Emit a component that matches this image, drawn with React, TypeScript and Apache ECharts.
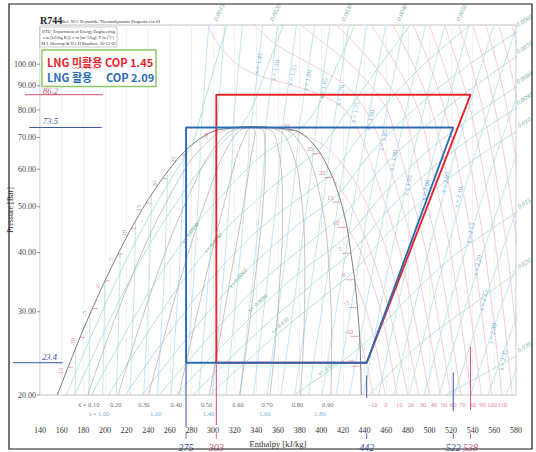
import React, { useEffect, useRef } from "react";
import * as echarts from "echarts";

type Pt = [number, number];

// ---------- axes ----------
const H_MIN = 140;
const H_MAX = 580;
const H_STEP = 20;
const P_MIN = 20;
const P_MAX = 121;
const pressureTicks = [20, 30, 40, 50, 60, 70, 80, 90, 100];

// ---------- saturation dome (bar, kJ/kg) ----------
const satP = [20, 22.9, 26.49, 30.47, 34.85, 39.69, 45.02, 50.87, 57.29, 64.34, 68.9, 72.14, 73.3, 73.77];
const satHf = [156, 166, 177, 188.5, 200, 212, 224.5, 238, 253, 270.5, 285, 300, 315, 335];
const satHg = [437, 436.5, 435.5, 433.5, 431, 427.5, 424, 418.5, 411, 400, 390, 378, 360, 335];

// temperature labels on the dome
const liqLabelT = ["-15", "-10", "-5", "0", "5", "10", "15", "20", "25", "30"];
const liqLabelH = [166, 177, 188.5, 200, 212, 224.5, 238, 253, 270.5, 300];
const vapLabelH = [436.5, 435.5, 433.5, 431, 427.5, 424, 418.5, 411, 400, 378];
const domeLabelP = [22.9, 26.49, 30.47, 34.85, 39.69, 45.02, 50.87, 57.29, 64.34, 72.14];

// ---------- quality lines ----------
const qualityX = [0.1, 0.2, 0.3, 0.4, 0.5, 0.6, 0.7, 0.8, 0.9];
const qualityP = [20, 26.49, 34.85, 45.02, 57.29, 64.34, 72.14, 73.77];
const qualityH = [
  [184.1, 202.9, 223.1, 244.5, 268.8, 283.5, 307.8, 335],
  [212.2, 228.7, 246.2, 264.4, 284.6, 296.4, 315.6, 335],
  [240.3, 254.6, 269.3, 284.4, 300.4, 309.4, 323.4, 335],
  [268.4, 280.4, 292.4, 304.3, 316.2, 322.3, 331.2, 335],
  [296.5, 306.3, 315.5, 324.3, 332, 335.3, 339, 335],
  [324.6, 332.1, 338.6, 344.2, 347.8, 348.2, 346.8, 335],
  [352.7, 358, 361.7, 364.2, 363.6, 361.2, 354.6, 335],
  [380.8, 383.8, 384.8, 384.1, 379.4, 374.1, 362.4, 335],
  [408.9, 409.7, 407.9, 404.1, 395.2, 387.1, 370.2, 335],
];

// ---------- isentropes (kJ/kg, bar) ----------
const isentropeS = [0.9, 0.95, 1.0, 1.05, 1.1, 1.15, 1.2, 1.25, 1.3, 1.35, 1.4, 1.45, 1.5, 1.55, 1.6, 1.65, 1.7, 1.75, 1.8, 1.85, 1.9, 1.95, 2.0, 2.05, 2.1, 2.15, 2.2, 2.25, 2.3, 2.35, 2.4];
const isentropeLines: Pt[][] = [
  [[172.5, 20], [172.8, 25.2]],
  [[185.2, 20], [185.9, 26.49], [186.3, 29.9]],
  [[197.9, 20], [199.1, 26.49], [200, 34.85]],
  [[210.5, 20], [212.3, 26.49], [213.7, 34.85], [214.1, 40.7]],
  [[223.2, 20], [225.4, 26.49], [227.3, 34.85], [228.2, 45.02], [228.3, 46.7]],
  [[235.9, 20], [238.6, 26.49], [241, 34.85], [242.3, 45.02], [243.2, 53.1]],
  [[248.6, 20], [251.7, 26.49], [254.6, 34.85], [256.5, 45.02], [258, 57.29], [258.1, 59.4]],
  [[261.3, 20], [264.9, 26.49], [268.3, 34.85], [270.7, 45.02], [272.6, 57.29], [273.2, 65]],
  [[273.9, 20], [278.1, 26.49], [281.9, 34.85], [284.8, 45.02], [287.3, 57.29], [288.1, 64.34], [288.1, 69], [292, 90], [296, 121]],
  [[286.6, 20], [291.2, 26.49], [295.6, 34.85], [299, 45.02], [302, 57.29], [303, 64.34], [303, 72.3], [306.5, 90], [310.7, 121]],
  [[299.3, 20], [304.4, 26.49], [309.3, 34.85], [313.1, 45.02], [316.6, 57.29], [317.9, 64.34], [318.2, 73], [321.9, 90], [327, 121]],
  [[312, 20], [317.5, 26.49], [322.9, 34.85], [327.3, 45.02], [331.3, 57.29], [332.8, 64.34], [333.3, 72.14], [335, 73.77], [339.5, 90], [346, 121]],
  [[324.7, 20], [330.7, 26.49], [336.6, 34.85], [341.4, 45.02], [345.9, 57.29], [347.7, 64.34], [348.5, 72.14], [348.6, 73.25], [353.3, 90], [359.6, 121]],
  [[337.4, 20], [343.8, 26.49], [350.2, 34.85], [355.6, 45.02], [360.6, 57.29], [362.6, 64.34], [363.7, 72.14], [363.8, 72.68], [369.5, 90], [377, 121]],
  [[350, 20], [357, 26.49], [363.9, 34.85], [369.8, 45.02], [375.2, 57.29], [377.5, 64.34], [378.8, 71.84], [385.5, 90], [394, 121]],
  [[362.7, 20], [370.2, 26.49], [377.5, 34.85], [383.9, 45.02], [389.9, 57.29], [392.4, 64.34], [393, 66.8], [397.4, 80], [403.1, 100], [408, 121]],
  [[375.4, 20], [383.3, 26.49], [391.2, 34.85], [398.1, 45.02], [404.6, 57.29], [405.9, 60.6], [411.7, 75], [418.4, 95], [425.5, 121]],
  [[388.1, 20], [396.5, 26.49], [404.9, 34.85], [412.2, 45.02], [416.2, 52.4], [422.6, 65], [430.9, 85], [442.5, 121]],
  [[400.8, 20], [409.6, 26.49], [418.5, 34.85], [425, 43.5], [432.3, 55], [440.3, 70], [448.9, 90], [459.6, 121]],
  [[413.5, 20], [422.8, 26.49], [431.3, 34.2], [440.2, 45], [450.1, 60], [460.5, 80], [469.2, 100], [476.6, 121]],
  [[426.1, 20], [435.6, 26.2], [445.8, 35], [459.2, 50], [472.8, 70], [485.8, 95], [496.6, 121]],
  [[439, 20], [453.7, 30], [469.6, 45], [485.2, 65], [500.1, 90], [514.2, 121]],
  [[453, 20], [469.4, 30], [487.1, 45], [504.4, 65], [521, 90], [536.6, 121]],
  [[467, 20], [485.1, 30], [504.6, 45], [523.8, 65], [542.1, 90], [559.4, 121]],
  [[481, 20], [500.6, 30], [521.8, 45], [542.5, 65], [562.3, 90], [581, 121]],
  [[495, 20], [516.4, 30], [539.6, 45], [562.4, 65], [584.1, 90]],
  [[509, 20], [532, 30], [556.8, 45], [581.2, 65]],
  [[523, 20], [547.7, 30], [574.4, 45], [600.6, 65]],
  [[538, 20], [564.6, 30], [593.4, 45]],
  [[554, 20], [582.3, 30]],
  [[571, 20], [601, 30]],
];
const sLabelText = ["s = 1.45", "s = 1.50", "s = 1.55", "s = 1.60", "s = 1.65", "s = 1.70", "s = 1.75", "s = 1.80", "s = 1.85", "s = 1.90", "s = 1.95", "s = 2.00", "s = 2.05", "s = 2.10", "s = 2.15", "s = 2.20", "s = 2.25", "s = 2.30", "s = 2.35"];
const sLabelH = [341.5, 357.2, 373, 386.8, 401.6, 417.3, 431.2, 445, 457, 466.3, 480, 496, 514.4, 526.4, 537.5, 544, 549.5, 557.8, 568];
const sLabelP = [100.5, 97.1, 94.8, 92.5, 89, 86, 79.2, 76.2, 69.1, 62.7, 55.5, 54.2, 56.3, 52.4, 44, 37.6, 31.7, 27, 23.7];

// ---------- isotherms (vapour / supercritical) ----------
const isothermT = [-10, 0, 10, 20, 30, 40, 50, 60, 70, 80, 90, 100, 110, 120, 130, 140, 150, 160, 170];
const isothermLines: Pt[][] = [
  [[435.5, 26.49], [442.5, 23], [448, 20]],
  [[431, 34.85], [442, 30], [451, 25], [459, 20]],
  [[424, 45.02], [437, 40], [455, 30], [470, 20]],
  [[411, 57.29], [428, 50], [446, 40], [463, 30], [480, 20]],
  [[378, 72.14], [404, 67], [423, 60], [434, 55], [461, 40], [490, 20]],
  [[500, 20], [473, 40], [448, 60], [437, 70], [422, 80], [405, 85], [375, 90], [340, 95], [322, 100], [305, 110], [295, 121]],
  [[510, 20], [486, 40], [464, 60], [453, 70], [441, 80], [423, 90], [390, 100], [358, 110], [338, 121]],
  [[519.5, 20], [497, 40], [477, 60], [469, 70], [461, 80], [446, 90], [427, 100], [404, 110], [381, 121]],
  [[529, 20], [508, 40], [490, 60], [476, 80], [463, 90], [448, 100], [432, 110], [414, 121]],
  [[538.5, 20], [519.5, 40], [503, 60], [490, 80], [469, 100], [446, 121]],
  [[548, 20], [530, 40], [515, 60], [502, 80], [485, 100], [466, 121]],
  [[557.5, 20], [541, 40], [527, 60], [514, 80], [500, 100], [485, 121]],
  [[567, 20], [551.5, 40], [538.5, 60], [526, 80], [513, 100], [500, 121]],
  [[576.5, 20], [562, 40], [549.5, 60], [538, 80], [526, 100], [514, 121]],
  [[586, 20], [572, 40], [560.5, 60], [549.5, 80], [538.5, 100], [527, 121]],
  [[595.5, 20], [582, 40], [571, 60], [561, 80], [551, 100], [540, 121]],
  [[605, 20], [592, 40], [581.5, 60], [572, 80], [562.5, 100], [552, 121]],
  [[614.5, 20], [602, 40], [592, 60], [583, 80], [574, 100], [564, 121]],
  [[624, 20], [612, 40], [602.5, 60], [594, 80], [585.5, 100], [576, 121]],
];

// ---------- isochores ----------
const isochoreV = [0.0015, 0.002, 0.003, 0.004, 0.005, 0.006, 0.007, 0.008, 0.009, 0.01, 0.015, 0.02, 0.03];
const isochoreLines: Pt[][] = [
  [[164.3, 20], [186.9, 26.49], [210.4, 34.85], [235, 45.02], [261.2, 57.29], [275.2, 64.34], [280.3, 66.9], [290, 80], [302, 100], [313, 121]],
  [[172, 20], [196.9, 26.49], [222.7, 34.85], [250.5, 45.02], [281.6, 57.29], [298.8, 64.34], [319.1, 72.14], [324.4, 73.3], [335, 80], [351, 100], [365, 121]],
  [[187.6, 20], [216.8, 26.49], [247.3, 34.85], [281.5, 45.02], [322.6, 57.29], [345.8, 64.34], [378, 72.14], [395, 80], [415, 100], [431, 121]],
  [[203.2, 20], [236.7, 26.49], [272, 34.85], [312.5, 45.02], [363.5, 57.29], [392.9, 64.34], [397.2, 65.35], [425, 80], [455, 100], [482, 121]],
  [[218.8, 20], [256.5, 26.49], [296.6, 34.85], [343.5, 45.02], [404.4, 57.29], [409.3, 58.4], [435, 70], [465, 85], [495, 100], [537, 121]],
  [[234.4, 20], [276.4, 26.49], [321.3, 34.85], [374.4, 45.02], [415.5, 53.1], [446, 65], [485, 80], [524, 95], [563, 110], [581, 117]],
  [[250, 20], [296.3, 26.49], [345.9, 34.85], [405.4, 45.02], [420.8, 48], [455, 60], [505, 77], [545, 91], [581, 104]],
  [[265.6, 20], [316.2, 26.49], [370.6, 34.85], [425, 43.6], [460, 54], [500, 66], [545, 79], [581, 89.7]],
  [[281.2, 20], [336.1, 26.49], [395.3, 34.85], [427.4, 40], [465, 50], [505, 61], [545, 71.5], [581, 81]],
  [[296.7, 20], [356, 26.49], [419.9, 34.85], [429.9, 36.45], [470, 46], [510, 55.5], [550, 65], [581, 72.2]],
  [[374.7, 20], [435.8, 25.2], [480, 32], [520, 39], [555, 44.5], [581, 48.7]],
  [[444, 20], [490, 25.5], [535, 30.5], [581, 36.3]],
  [[515, 20], [581, 24.2]],
];
const vInText = ["v= 0.0030", "v= 0.0040", "v= 0.0060", "v= 0.0080", "v= 0.010", "v= 0.015"];
const vInH = [278.7, 300, 323, 341.5, 361.9, 405.3];
const vInP = [44, 41.9, 35.3, 31.3, 28.1, 22.8];
const vInRot = [54, 49, 48, 42, 42, 36];
const vTopText = ["0.0015", "0.0020", "0.0030", "0.0040", "0.0050"];
const vTopH = [313, 365, 431, 482, 537];
const vRightText = ["0.0060", "0.0070", "0.0080", "0.0090", "0.010", "0.015", "0.020", "0.030"];
const vRightP = [118, 103.5, 89.4, 80.7, 71.9, 48.5, 36.2, 24.1];

// ---------- labels below the axis ----------
const xRowText = ["x = 0.10", "0.20", "0.30", "0.40", "0.50", "0.60", "0.70", "0.80", "0.90"];
const xRowH = [185, 210, 236, 266, 294, 323, 350, 378, 406];
const sRowText = ["s = 1.00", "1.20", "1.40", "1.60", "1.80"];
const sRowH = [194.6, 247, 296, 348, 398.6];
const tRowText = ["-10", "0", "10", "20", "30", "40", "50", "60", "70", "80", "90", "100", "110"];
const tRowH = [448, 460, 472, 483, 494, 504, 513.5, 522, 530.5, 540, 549, 558, 567.5];

// ---------- the two cycles ----------
const redCycleH = [303, 303, 538, 442, 303];
const redCycleP = [23.4, 86.2, 86.2, 23.4, 23.4];
const blueCycleH = [275, 275, 522, 442, 275];
const blueCycleP = [23.4, 73.5, 73.5, 23.4, 23.4];

// ---------- handwritten marks ----------
const markP = [86.2, 73.5, 23.4];
const markText = ["86.2", "73.5", "23.4"];
const markHStart = [126, 130, 115];
const markHEnd = [198, 197, 161];
const markTextH = [149.7, 149.7, 148.8];
const markTextLift = [4, 6, 6];
const annoH = [275, 303, 442, 522, 538];
const annoText = ["275", "303", "442", "522", "538"];
const annoTopP = [23.4, 23.4, 22.0, 22.3, 25.3];
const annoDrop = [32, 30, 3, 16, 15];

const RED = "#e8242b";
const BLUE = "#2a6cb4";
const RED_INK = "#d0506e";
const BLUE_INK = "#3652a8";
const annoColor = [BLUE_INK, RED_INK, BLUE_INK, BLUE_INK, RED_INK];

const SERIF = '"Liberation Serif", "DejaVu Serif", serif';
const KR = '"Noto Sans CJK KR", "Noto Sans", sans-serif';

const zip = (hs: number[], ps: number[]): Pt[] => hs.map((h, i) => [h, ps[i]] as Pt);

function lineSeries(id: string, data: Pt[], color: string, width: number, z: number, smooth: number | boolean = false) {
  return {
    type: "line",
    id,
    data,
    showSymbol: false,
    symbol: "none",
    silent: true,
    smooth,
    clip: true,
    z,
    lineStyle: { color, width },
  };
}

function labelSeries(id: string, data: any[], texts: string[], color: string, fontSize: number, offset: [number, number], rotate = 0, italic = false, z = 6) {
  return {
    type: "scatter",
    id,
    data,
    symbolSize: 1,
    clip: false,
    silent: true,
    z,
    itemStyle: { color: "rgba(0,0,0,0)" },
    label: {
      show: true,
      position: "inside",
      offset,
      rotate,
      color,
      fontSize,
      fontFamily: SERIF,
      fontStyle: italic ? "italic" : "normal",
      formatter: (p: any) => texts[p.dataIndex],
    },
  };
}

export default function App() {
  const ref = useRef<HTMLDivElement>(null);

  useEffect(() => {
    if (!ref.current) return;
    const chart = echarts.init(ref.current, undefined, { renderer: "svg" });

    const series: any[] = [];

    isothermLines.forEach((pts, i) => series.push(lineSeries("T" + isothermT[i], pts, "#eebccb", 0.75, 1, 0.3)));
    isochoreLines.forEach((pts, i) => series.push(lineSeries("v" + isochoreV[i], pts, "#a3d6cc", 0.75, 2, 0.3)));
    isentropeLines.forEach((pts, i) => series.push(lineSeries("s" + isentropeS[i], pts, "#afdcec", 0.75, 2)));
    qualityH.forEach((hs, i) => series.push(lineSeries("x" + qualityX[i], zip(hs, qualityP), "#ababab", 0.7, 3, 0.3)));

    const dome: Pt[] = [...zip(satHf, satP), ...zip(satHg, satP).reverse().slice(1)];
    series.push(lineSeries("dome", dome, "#6c6c6c", 0.9, 4, 0.25));

    // dome temperature labels
    series.push({
      ...labelSeries("liqT", zip(liqLabelH, domeLabelP), liqLabelT, "#d45b7b", 6.5, [-5, -10], 90),
      symbol: "rect",
      symbolSize: [5, 0.7],
      symbolOffset: [2.5, 0],
      itemStyle: { color: "#d45b7b" },
    });
    series.push({
      ...labelSeries("vapT", zip(vapLabelH, domeLabelP), liqLabelT, "#d45b7b", 6.5, [-6, -5], 0),
      symbol: "rect",
      symbolSize: [8, 0.7],
      symbolOffset: [-5, -1],
      itemStyle: { color: "#d45b7b" },
    });

    // property-line labels
    series.push(labelSeries("sLab", zip(sLabelH, sLabelP), sLabelText, "#3f93cc", 6.5, [0, 0], 78));
    series.push(
      labelSeries(
        "vInLab",
        vInH.map((h, i) => ({ value: [h, vInP[i]], label: { rotate: vInRot[i] } })),
        vInText,
        "#3f9680",
        6,
        [0, 0],
        45
      )
    );
    series.push(labelSeries("vTopLab", vTopH.map((h) => [h, P_MAX]), vTopText, "#3f9680", 6.5, [8, -13], 65, true));
    series.push(labelSeries("vRightLab", vRightP.map((p) => [H_MAX, p]), vRightText, "#3f9680", 6.5, [12, -4], 32, true));

    // rows under the axis
    series.push(labelSeries("xRow", xRowH.map((h) => [h, P_MIN]), xRowText, "#444", 6.5, [0, 9]));
    series.push(labelSeries("sRow", sRowH.map((h) => [h, P_MIN]), sRowText, "#3f93cc", 6.5, [0, 18.5]));
    series.push(labelSeries("tRow", tRowH.map((h) => [h, P_MIN]), tRowText, "#e05a7a", 6.5, [0, 9]));

    // cycles
    series.push({ ...lineSeries("redCycle", zip(redCycleH, redCycleP), RED, 1.9, 10), clip: false });
    series.push({ ...lineSeries("blueCycle", zip(blueCycleH, blueCycleP), BLUE, 1.9, 11), clip: false });

    // y tick labels
    series.push({
      type: "custom",
      id: "yTicks",
      coordinateSystem: "cartesian2d",
      clip: false,
      silent: true,
      z: 20,
      data: pressureTicks.map((p) => [H_MIN, p]),
      renderItem: (params: any, api: any) => {
        const pt = api.coord([api.value(0), api.value(1)]);
        return {
          type: "group",
          children: [
            { type: "line", shape: { x1: pt[0] - 3, y1: pt[1], x2: pt[0], y2: pt[1] }, style: { stroke: "#777", lineWidth: 0.8 } },
            {
              type: "text",
              style: {
                text: pressureTicks[params.dataIndex].toFixed(2),
                x: pt[0] - 4,
                y: pt[1],
                fill: "#444",
                font: "8px " + SERIF,
                align: "right",
                textAlign: "right",
                verticalAlign: "middle",
                textVerticalAlign: "middle",
              },
            },
          ],
        };
      },
    });

    // handwritten pressure marks on the left
    series.push({
      type: "custom",
      id: "pMarks",
      coordinateSystem: "cartesian2d",
      clip: false,
      silent: true,
      z: 21,
      data: markP.map((p, i) => [markHStart[i], p]),
      renderItem: (params: any, api: any) => {
        const i = params.dataIndex;
        const c = i === 0 ? RED_INK : BLUE_INK;
        const a = api.coord([markHStart[i], markP[i]]);
        const b = api.coord([markHEnd[i], markP[i]]);
        const t = api.coord([markTextH[i], markP[i]]);
        return {
          type: "group",
          children: [
            { type: "line", shape: { x1: a[0], y1: a[1], x2: b[0], y2: b[1] }, style: { stroke: c, lineWidth: 1 } },
            {
              type: "text",
              style: {
                text: markText[i],
                x: t[0],
                y: t[1] - markTextLift[i],
                fill: c,
                font: "italic 8.5px " + SERIF,
                align: "center",
                textAlign: "center",
                verticalAlign: "middle",
                textVerticalAlign: "middle",
              },
            },
          ],
        };
      },
    });

    // handwritten enthalpy marks at the bottom
    series.push({
      type: "custom",
      id: "hMarks",
      coordinateSystem: "cartesian2d",
      clip: false,
      silent: true,
      z: 21,
      data: annoH.map((h, i) => [h, annoTopP[i]]),
      renderItem: (params: any, api: any) => {
        const i = params.dataIndex;
        const c = annoColor[i];
        const top = api.coord([annoH[i], annoTopP[i]]);
        const base = api.coord([annoH[i], P_MIN]);
        return {
          type: "group",
          children: [
            { type: "line", shape: { x1: top[0], y1: top[1], x2: top[0], y2: base[1] + annoDrop[i] }, style: { stroke: c, lineWidth: 1 } },
            { type: "line", shape: { x1: top[0], y1: base[1] + 38, x2: top[0], y2: base[1] + 44 }, style: { stroke: c, lineWidth: 0.8 } },
            {
              type: "text",
              style: {
                text: annoText[i],
                x: top[0],
                y: base[1] + 52,
                fill: c,
                font: "italic 10px " + SERIF,
                align: "center",
                textAlign: "center",
                verticalAlign: "middle",
                textVerticalAlign: "middle",
              },
            },
          ],
        };
      },
    });

    // spell-check squiggle under the Korean word
    const squiggle: number[][] = [];
    for (let k = 0; k <= 13; k++) squiggle.push([72 + k * 2, k % 2 === 0 ? 67 : 68.6]);

    const txt = (text: string, x: number, y: number, font: string, fill: string, align = "left", vAlign = "middle") => ({
      type: "text",
      silent: true,
      z: 200,
      style: { text, x, y, font, fill, align, textAlign: align, verticalAlign: vAlign, textVerticalAlign: vAlign },
    });

    const option: any = {
      animation: false,
      backgroundColor: "#ffffff",
      grid: {
        left: 40,
        right: 20,
        top: 25,
        bottom: 57,
        show: true,
        borderColor: "#b3b3b3",
        borderWidth: 0.8,
        containLabel: false,
        outerBoundsMode: "none",
      },
      xAxis: {
        type: "value",
        min: H_MIN,
        max: H_MAX,
        interval: H_STEP,
        name: "Enthalpy [kJ/kg]",
        nameLocation: "middle",
        nameGap: 44,
        nameTextStyle: { fontFamily: SERIF, fontSize: 8.5, color: "#333" },
        axisLine: { show: false },
        axisTick: { show: false },
        axisLabel: { margin: 31, fontFamily: SERIF, fontSize: 8, color: "#333" },
        splitLine: { show: true, lineStyle: { color: "#ecf0f2", width: 0.8 } },
      },
      yAxis: {
        type: "log",
        logBase: 10,
        min: P_MIN,
        max: P_MAX,
        name: "Pressure [Bar]",
        nameLocation: "middle",
        nameGap: 26,
        nameRotate: 90,
        nameTextStyle: { fontFamily: SERIF, fontSize: 8, color: "#333" },
        axisLine: { show: false },
        axisTick: { show: false },
        axisLabel: { show: false },
        splitLine: { show: false },
      },
      series,
      graphic: [
        { type: "rect", silent: true, z: 300, shape: { x: 9, y: 4, width: 523, height: 445 }, style: { fill: "none", stroke: "#1a1a1a", lineWidth: 1.2 } },
        txt("R744", 40, 25, "bold 10px " + SERIF, "#222", "left", "bottom"),
        txt("Ref. W.C Reynolds: Thermodynamic Properties in SI", 62, 24, "4.6px " + SERIF, "#333", "left", "bottom"),
        { type: "rect", silent: true, z: 199, shape: { x: 40, y: 27, width: 77, height: 20 }, style: { fill: "#ffffff", stroke: "#999", lineWidth: 0.5 } },
        txt("DTU, Department of Energy Engineering", 78.5, 31.5, "4.4px " + SERIF, "#333", "center"),
        txt("s in [kJ/(kg K)]; v in [m^3/kg]; T in [\u00baC]", 78.5, 37.5, "4.4px " + SERIF, "#333", "center"),
        txt("M.J. Skovrup & H.J.H Knudsen. 20-12-03", 78.5, 43.5, "4.4px " + SERIF, "#333", "center"),
        { type: "rect", silent: true, z: 199, shape: { x: 42, y: 50, width: 114, height: 36.5 }, style: { fill: "#ffffff", stroke: "#8cc864", lineWidth: 1.5 } },
        txt("LNG \ubbf8\ud65c\uc6a9", 47, 61.5, "bold 11px " + KR, RED),
        txt("COP 1.45", 105, 61.5, "bold 11px " + KR, RED),
        txt("LNG \ud65c\uc6a9", 47, 76.5, "bold 11px " + KR, BLUE),
        txt("COP 2.09", 106, 76.5, "bold 11px " + KR, BLUE),
        { type: "polyline", silent: true, z: 201, shape: { points: squiggle }, style: { fill: "none", stroke: "#e34848", lineWidth: 0.6 } },
      ],
    };

    chart.setOption(option);
    return () => chart.dispose();
  }, []);

  return (
    <div
      ref={ref}
      style={{ position: "fixed", left: 0, top: 0, width: 536, height: 452, background: "#fff" }}
    />
  );
}
